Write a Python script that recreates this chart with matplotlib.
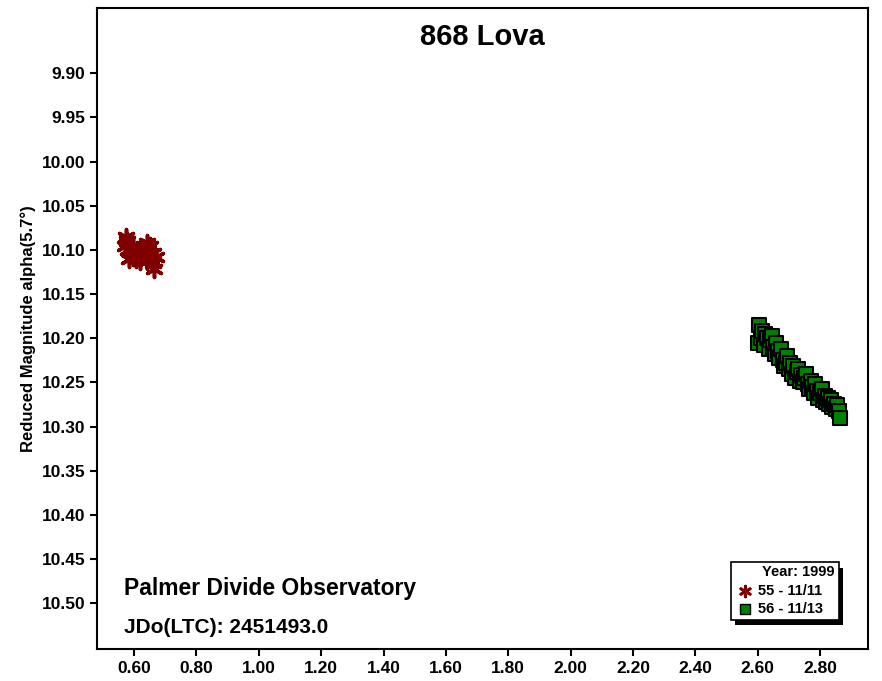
import matplotlib.pyplot as plt
from matplotlib.patches import Rectangle

plt.rcParams['font.family'] = 'Liberation Sans'
plt.rcParams['font.weight'] = 'bold'

# Session 55 - 11/11
red_x = [0.570, 0.575, 0.580, 0.585, 0.590, 0.595, 0.600, 0.605, 0.610, 0.615,
         0.620, 0.625, 0.630, 0.635, 0.640, 0.645, 0.650, 0.655, 0.660, 0.665,
         0.670, 0.578, 0.598, 0.618, 0.642, 0.662]
red_y = [10.095, 10.085, 10.100, 10.110, 10.098, 10.105, 10.102, 10.110, 10.100, 10.108,
         10.112, 10.104, 10.098, 10.106, 10.092, 10.100, 10.095, 10.110, 10.115, 10.122,
         10.108, 10.090, 10.095, 10.100, 10.112, 10.104]

# Session 56 - 11/13
green_x = [2.600, 2.605, 2.610, 2.615, 2.620, 2.625, 2.630, 2.635, 2.640, 2.645,
           2.650, 2.655, 2.660, 2.665, 2.670, 2.675, 2.680, 2.685, 2.690, 2.695,
           2.700, 2.705, 2.710, 2.715, 2.720, 2.725, 2.730, 2.735, 2.740, 2.745,
           2.750, 2.755, 2.760, 2.765, 2.770, 2.775, 2.780, 2.785, 2.790, 2.795,
           2.800, 2.805, 2.810, 2.815, 2.820, 2.825, 2.830, 2.835, 2.840, 2.845,
           2.850, 2.855, 2.860, 2.865]
green_y = [10.205, 10.185, 10.200, 10.192, 10.208, 10.195, 10.200, 10.212, 10.202, 10.198,
           10.210, 10.218, 10.205, 10.215, 10.222, 10.212, 10.225, 10.232, 10.228, 10.220,
           10.235, 10.228, 10.240, 10.232, 10.245, 10.238, 10.235, 10.248, 10.242, 10.250,
           10.245, 10.240, 10.252, 10.258, 10.248, 10.255, 10.262, 10.252, 10.260, 10.268,
           10.262, 10.258, 10.270, 10.265, 10.272, 10.268, 10.275, 10.270, 10.278, 10.275,
           10.280, 10.276, 10.282, 10.290]

x_ticks = [0.60, 0.80, 1.00, 1.20, 1.40, 1.60, 1.80, 2.00, 2.20, 2.40, 2.60, 2.80]
y_ticks = [9.90, 9.95, 10.00, 10.05, 10.10, 10.15, 10.20, 10.25, 10.30, 10.35, 10.40, 10.45, 10.50]

fig = plt.figure(figsize=(8.82, 6.81), dpi=100)
ax = fig.add_axes([97 / 882, 32 / 681, 771 / 882, 641 / 681])

ax.scatter(red_x, red_y, marker=(6, 2, 0), s=130, color='#800000', linewidths=2.6, zorder=3)
ax.scatter(green_x, green_y, marker='s', s=110, color='#008000', edgecolors='black',
           linewidths=1.5, zorder=3)

ax.set_xlim(0.481, 2.954)
ax.set_ylim(10.552, 9.826)
ax.set_xticks(x_ticks)
ax.set_xticklabels([f'{v:.2f}' for v in x_ticks])
ax.set_yticks(y_ticks)
ax.set_yticklabels([f'{v:.2f}' for v in y_ticks])
ax.tick_params(labelsize=12.5, width=1.5, length=5)
for s in ax.spines.values():
    s.set_linewidth(1.5)
ax.set_ylabel('Reduced Magnitude alpha(5.7°)', fontsize=12, fontweight='bold')

ax.text(0.5, 0.955, '868 Lova', transform=ax.transAxes, ha='center', va='center',
        fontsize=21, fontweight='heavy')
ax.text(0.035, 0.095, 'Palmer Divide Observatory', transform=ax.transAxes,
        fontsize=16.5, fontweight='bold', va='center')
ax.text(0.035, 0.033, 'JDo(LTC): 2451493.0', transform=ax.transAxes,
        fontsize=15, fontweight='bold', va='center')

# legend box with shadow
bx, by, bw, bh = 0.822, 0.045, 0.14, 0.09
ax.add_patch(Rectangle((bx + 0.006, by - 0.008), bw, bh, transform=ax.transAxes,
                       facecolor='black', zorder=4))
ax.add_patch(Rectangle((bx, by), bw, bh, transform=ax.transAxes,
                       facecolor='white', edgecolor='black', lw=1.2, zorder=5))
ax.text(bx + bw - 0.005, by + bh - 0.015, 'Year: 1999', transform=ax.transAxes,
        ha='right', va='center', fontsize=10.5, zorder=6)
ax.scatter([bx + 0.018], [by + 0.045], marker=(6, 2, 0), s=60, color='#800000',
           linewidths=2, transform=ax.transAxes, zorder=6)
ax.text(bx + 0.035, by + 0.045, '55 - 11/11', transform=ax.transAxes,
        va='center', fontsize=10.5, zorder=6)
ax.scatter([bx + 0.018], [by + 0.017], marker='s', s=50, color='#008000',
           edgecolors='black', linewidths=1, transform=ax.transAxes, zorder=6)
ax.text(bx + 0.035, by + 0.017, '56 - 11/13', transform=ax.transAxes,
        va='center', fontsize=10.5, zorder=6)

fig.savefig('out.png', dpi=100)
